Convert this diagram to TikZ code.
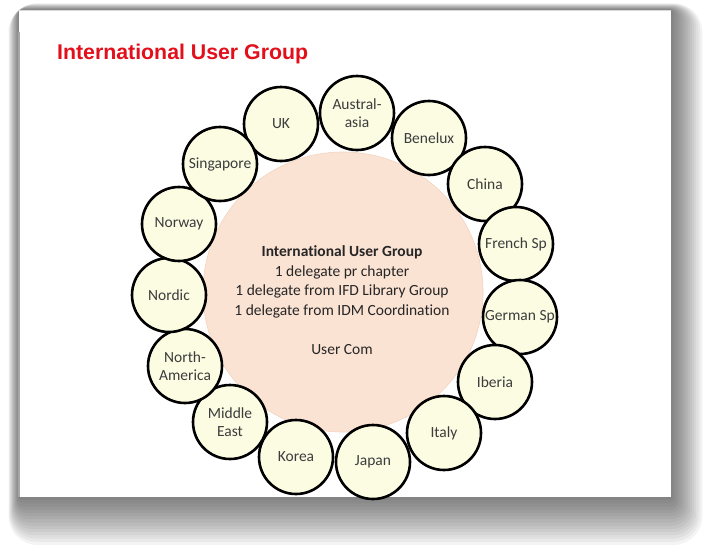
\documentclass[tikz,border=0pt]{standalone}
\usepackage{fontspec}
\setmainfont{Carlito}[Ligatures=NoCommon]
\newfontfamily\arialfont{Liberation Sans}
\definecolor{titlered}{HTML}{E3101C}
\definecolor{peach}{HTML}{FBE3D4}
\definecolor{cream}{HTML}{FCFCE3}
\definecolor{labelgray}{HTML}{3C3C3C}
\tikzset{
  country/.style={circle, draw=black, line width=2.6pt, fill=cream, minimum size=74pt, inner sep=0pt,
    align=center, font=\fontsize{15.5}{18.5}\selectfont, text=labelgray},
  bigcircle/.style={circle, fill=peach, draw=peach!85!brown, line width=0.6pt, minimum size=280pt, inner sep=0pt},
}
\begin{document}
\begin{tikzpicture}[x=1pt,y=-1pt]
\useasboundingbox (0,0) rectangle (710,549);
% shadow
\foreach \i in {0,...,15}{
  \fill[black, opacity=0.045, rounded corners={2pt+\i*1.8pt}]
    ({19-\i*0.7},{10-\i*0.45}) rectangle ({671+\i*2.1},{497+\i*3.2});
}
% slide
\fill[white] (19,10) rectangle (671,497);
\draw[gray!30, line width=0.6pt] (19,10) -- (671,10);
\draw[gray!70, line width=1.2pt] (19,32) -- (19,497);
% title
\node[anchor=base west, inner sep=0pt, font=\arialfont\bfseries\fontsize{21.3}{24}\selectfont, text=titlered]
  (title) at (57,59) {International User Group};
% central circle
\node[bigcircle] (hub) at (343,292) {};
\node[align=center, font=\fontsize{15.5}{19.5}\selectfont, text=black!85] (hubtext) at (342,300)
  {\textbf{International User Group}\\1 delegate pr chapter\\1 delegate from IFD Library Group\\1 delegate from IDM Coordination\\[19.5pt]User Com};
% country circles
\node[country] (uk)    at (281,124) {UK};
\node[country] (aus)   at (357,113) {Austral-\\asia};
\node[country] (ben)   at (429,138) {Benelux};
\node[country] (chn)   at (485,184) {China};
\node[country] (fra)   at (516,244) {French Sp};
\node[country] (ger)   at (520,317) {German Sp};
\node[country] (ibe)   at (495,382) {Iberia};
\node[country] (ita)   at (444,433) {Italy};
\node[country] (jap)   at (373,462) {Japan};
\node[country] (kor)   at (296,457) {Korea};
\node[country] (mid)   at (230,422) {Middle\\East};
\node[country] (nam)   at (185,366) {North-\\America};
\node[country] (nor)   at (169,295) {Nordic};
\node[country] (nwy)   at (179,224) {Norway};
\node[country] (sgp)   at (220,164) {Singapore};
\end{tikzpicture}
\end{document}
